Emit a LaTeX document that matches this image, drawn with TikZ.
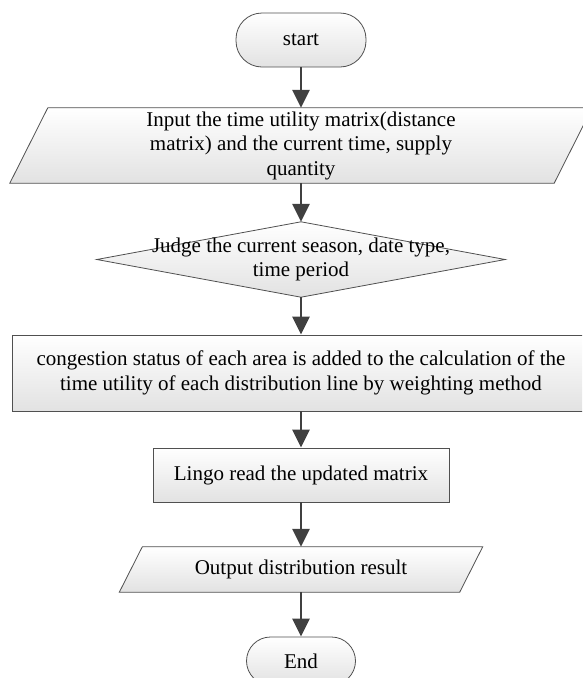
\documentclass[tikz,border=0pt]{standalone}
\usepackage{fontspec}
\setmainfont{Liberation Serif}
\usetikzlibrary{arrows.meta,backgrounds}
\definecolor{edgec}{HTML}{505050}
\definecolor{arrc}{HTML}{404040}
\definecolor{fillbot}{HTML}{E2E2E2}
\tikzset{
  shp/.style={draw=edgec, line width=0.8pt, top color=white, bottom color=fillbot},
  txt/.style={inner sep=0pt, align=center, font=\fontsize{21}{24.5}\selectfont},
  box/.style={shp, txt},
  flow/.style={draw=arrc, line width=2.6pt, -{Triangle[width=17pt,length=18pt]}}
}
\begin{document}
\begin{tikzpicture}[x=1pt,y=-1pt]
\useasboundingbox (0,0) rectangle (582,678);
\clip (0,0) rectangle (582,678);
\node[box, rounded corners=26pt, minimum width=130pt, minimum height=54pt] (start) at (301,40) {start};
\node[txt, minimum width=544pt, minimum height=75pt] (inp) at (301,145.5) {Input the time utility matrix(distance\\matrix) and the current time, supply\\quantity};
\node[txt, minimum width=408pt, minimum height=75pt] (judge) at (301,259.5) {Judge the current season, date type,\\time period};
\node[box, minimum width=578pt, minimum height=76pt] (cong) at (301,373) {congestion status of each area is added to the calculation of the\\time utility of each distribution line by weighting method};
\node[box, minimum width=296pt, minimum height=54pt] (lingo) at (301,475) {Lingo read the updated matrix};
\node[txt, minimum width=340pt, minimum height=45pt] (out) at (301,569.5) {Output distribution result};
\node[box, rounded corners=24pt, minimum width=109pt, minimum height=48pt] (end) at (301,661) {End};
\begin{pgfonlayer}{background}
\path[shp] ([xshift=19pt]inp.north west) -- ([xshift=19pt]inp.north east) -- ([xshift=-19pt]inp.south east) -- ([xshift=-19pt]inp.south west) -- cycle;
\path[shp] (judge.west) -- (judge.north) -- (judge.east) -- (judge.south) -- cycle;
\path[shp] ([xshift=11.5pt]out.north west) -- ([xshift=11.5pt]out.north east) -- ([xshift=-11.5pt]out.south east) -- ([xshift=-11.5pt]out.south west) -- cycle;
\end{pgfonlayer}
\draw[flow] (start.south) -- (inp.north);
\draw[flow] (inp.south) -- (judge.north);
\draw[flow] (judge.south) -- (cong.north);
\draw[flow] (cong.south) -- (lingo.north);
\draw[flow] (lingo.south) -- (out.north);
\draw[flow] (out.south) -- (end.north);
\end{tikzpicture}
\end{document}
